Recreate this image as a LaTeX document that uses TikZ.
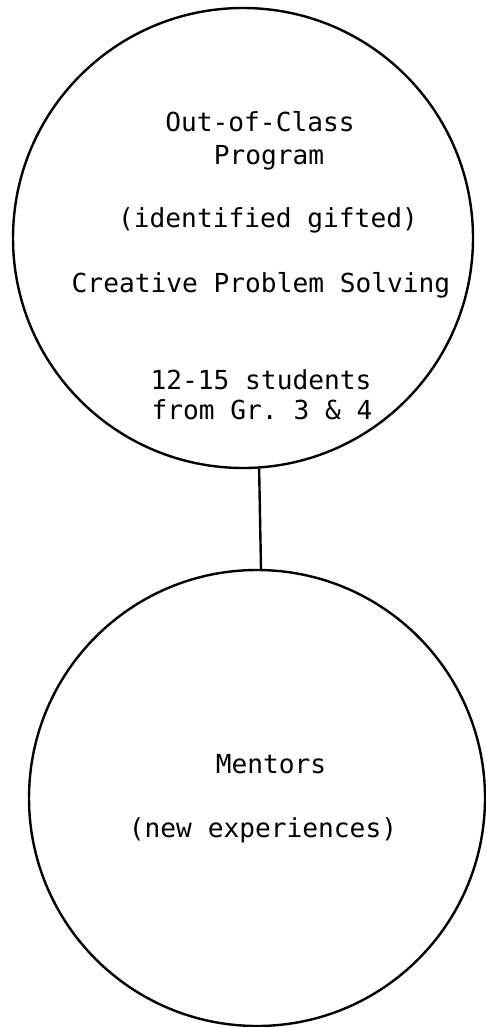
\documentclass[tikz,border=0pt]{standalone}
\usepackage{fontspec}
\setmonofont{DejaVu Sans Mono}
\begin{document}
\begin{tikzpicture}[x=1pt,y=-1pt,
  ring/.style={draw=black,line width=2.4pt,circle,inner sep=0pt},
  lbl/.style={anchor=base,inner sep=0pt,font=\fontsize{26.2}{30}\selectfont\ttfamily},
  link/.style={draw=black,line width=2.4pt}]
\useasboundingbox (0,0) rectangle (485,1027);
\node[ring,minimum size=460pt] (top) at (243,238) {};
\node[ring,minimum size=456pt] (bot) at (257,798) {};
\draw[link] (top.-86.8) -- (bot.89.5);
\node[lbl] (t1) at (260,132) {Out-of-Class};
\node[lbl] (t2) at (269,165) {Program};
\node[lbl] (t3) at (268,227) {(identified gifted)};
\node[lbl] (t4) at (261,292) {Creative Problem Solving};
\node[lbl] (t5) at (261,389) {12-15 students};
\node[lbl] (t6) at (262,419) {from Gr. 3 \& 4};
\node[lbl] (b1) at (271,773) {Mentors};
\node[lbl] (b2) at (263,837) {(new experiences)};
\end{tikzpicture}
\end{document}
